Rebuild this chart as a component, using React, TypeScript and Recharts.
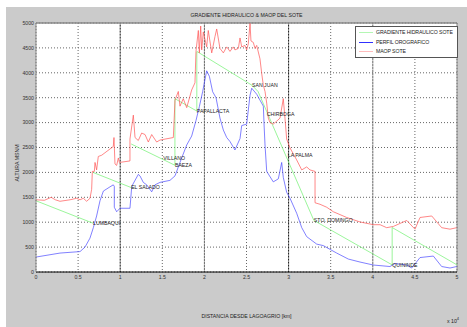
import React from "react";
import {
  LineChart,
  Line,
  XAxis,
  YAxis,
  CartesianGrid,
  ReferenceLine,
  ReferenceDot,
  Legend,
} from "recharts";

// distances in metres, heights in m.s.n.m.
const profileX = [0, 2850, 5230, 5820, 6410, 6810, 7200, 7600, 8000, 8790, 9180, 9300, 9300, 9580, 9980, 11160, 11370, 12150, 12350, 12740, 13150, 13740, 14130, 14730, 15910, 16510, 17100, 17900, 18490, 19000, 19400, 19790, 20270, 20590, 20980, 21380, 21850, 22250, 22650, 23040, 23630, 24230, 24430, 25020, 25420, 25620, 26210, 27000, 27100, 27200, 27400, 28180, 28780, 29180, 29370, 29770, 30170, 30960, 31560, 32150, 33340, 34120, 35710, 37090, 38480, 40060, 42040, 42640, 44030, 44620, 45610, 47190, 48180, 49170, 49960];
const profileY = [300, 380, 410, 500, 680, 890, 1125, 1430, 1625, 1710, 1750, 1720, 1300, 1210, 1280, 1280, 1720, 1960, 1930, 1800, 1750, 1610, 1750, 1800, 1840, 1930, 2200, 2550, 2730, 3040, 3320, 3620, 4040, 3930, 3620, 3500, 3090, 2850, 2700, 2620, 2450, 2680, 2940, 2970, 3550, 3690, 3570, 3330, 2910, 2550, 2020, 1810, 1870, 2200, 1900, 1600, 1480, 1180, 890, 710, 560, 530, 380, 260, 200, 140, 110, 170, 140, 80, 290, 320, 110, 80, 110];

const maopX = [0, 1000, 1800, 2300, 2850, 4040, 4830, 5230, 5620, 6020, 6410, 6610, 6690, 6930, 7010, 7200, 7400, 7800, 9180, 9260, 9380, 9580, 9780, 9900, 11160, 11160, 11560, 11760, 12150, 12550, 12950, 13340, 13740, 14330, 14730, 16310, 16510, 16900, 17100, 17490, 17900, 18490, 18880, 19000, 19280, 19400, 19560, 19680, 19870, 20270, 20460, 20870, 21260, 21460, 21850, 22250, 22650, 23040, 23430, 23630, 24030, 24230, 24430, 24820, 25020, 25210, 25420, 25530, 25810, 26010, 26210, 26600, 26810, 27000, 27200, 27400, 27590, 27790, 28180, 28590, 28980, 29370, 29570, 29770, 30170, 30960, 31560, 32150, 32540, 33140, 33140, 33730, 34530, 35310, 36900, 38480, 40060, 40860, 41650, 42440, 44030, 45010, 45610, 47000, 48180, 49170, 49960];
const maopY = [1450, 1440, 1500, 1450, 1420, 1450, 1480, 1450, 1480, 1420, 1480, 1660, 2020, 2020, 2200, 2050, 2320, 2345, 2520, 2700, 2170, 2140, 2290, 2200, 2230, 2670, 3150, 2700, 2640, 2790, 2760, 2610, 2760, 2610, 2650, 2700, 3450, 3625, 3330, 3480, 3300, 3655, 3800, 4430, 4850, 4400, 4940, 4460, 4820, 4520, 4850, 4400, 4730, 4880, 4490, 4400, 4520, 4430, 4520, 4460, 4490, 4700, 4520, 4550, 4460, 4580, 4990, 4640, 4610, 4490, 4550, 4280, 3980, 3750, 3625, 3390, 3090, 3000, 2970, 3030, 3090, 3480, 3090, 2670, 2490, 2250, 2050, 2110, 2050, 2020, 1390, 1360, 1300, 1210, 1095, 1005, 950, 950, 890, 915, 1035, 860, 1095, 1125, 890, 860, 890];

// hydraulic gradient, drawn in three pieces (it restarts at pump stations)
const gradX1 = [0, 6770];
const gradY1 = [1430, 980];
const gradX2 = [6770, 11300];
const gradY2 = [2000, 1696];
const gradX3 = [11300, 16500, 16500, 19100, 19100, 25650, 26370, 33000, 42300, 42300, 50000];
const gradY3 = [2571, 2143, 3480, 3232, 4429, 3750, 3625, 1036, 143, 893, 143];

const stationNames = ["LUMBAQUI", "EL SALADO", "VILLANO", "BAEZA", "PAPALLACTA", "SAN JUAN", "CHIRBOGA", "LA PALMA", "STO. DOMINGO", "QUININDE"];
const stationX = [6770, 11300, 15100, 16500, 19100, 25650, 27400, 29900, 33000, 42300];
const stationY = [980, 1696, 2290, 2143, 3232, 3750, 3160, 2340, 1036, 143];

const xTicks = [0, 5000, 10000, 15000, 20000, 25000, 30000, 35000, 40000, 45000, 50000];
const yTicks = [0, 500, 1000, 1500, 2000, 2500, 3000, 3500, 4000, 4500, 5000];

const legendItems = [
  { name: "GRADIENTE HIDRAULICO SOTE", color: "#b4f7b4" },
  { name: "PERFIL OROGRAFICO", color: "#3030ff" },
  { name: "MAOP SOTE", color: "#ffbcbc" },
];

const zip = (xs: number[], ys: number[]) => xs.map((x, i) => ({ x, y: ys[i] }));

const profile = zip(profileX, profileY);
const maop = zip(maopX, maopY);
const grad1 = zip(gradX1, gradY1);
const grad2 = zip(gradX2, gradY2);
const grad3 = zip(gradX3, gradY3);

const FONT = "'Liberation Sans', Arial, sans-serif";
const FS = 5.2;
const tickStyle = { fontSize: FS, fill: "#333", fontFamily: FONT };

function LegendBox() {
  return (
    <div
      style={{
        width: 101,
        height: 29,
        background: "#fff",
        border: "1px solid #555",
        fontFamily: FONT,
        fontSize: FS,
        color: "#222",
        paddingTop: 1,
        boxSizing: "content-box",
        whiteSpace: "nowrap",
        lineHeight: 1,
      }}
    >
      {legendItems.map((it) => (
        <div key={it.name} style={{ display: "flex", alignItems: "center", height: 9.5 }}>
          <div style={{ width: 14, height: 1, background: it.color, marginLeft: 3, marginRight: 3, flexShrink: 0 }} />
          <span style={{ letterSpacing: -0.1 }}>{it.name}</span>
        </div>
      ))}
    </div>
  );
}

export default function App() {
  const green = "#70f070";
  return (
    <div style={{ position: "absolute", left: 0, top: 0, width: 467, height: 327, background: "#fff" }}>
      <div style={{ position: "absolute", left: 6, top: 7, right: 0, bottom: 0, background: "#cbcbcb" }} />
      <div
        style={{
          position: "absolute",
          left: 36,
          width: 421,
          top: 12,
          textAlign: "center",
          fontFamily: FONT,
          fontSize: FS,
          color: "#222",
        }}
      >
        GRADIENTE HIDRAULICO &amp; MAOP DEL SOTE
      </div>
      <div style={{ position: "absolute", left: 0, top: 0 }}>
        <LineChart width={467} height={327} margin={{ top: 23, right: 10, bottom: 0, left: 6 }}>
          <CartesianGrid fill="#fff" stroke="#666" strokeDasharray="1 2" horizontalValues={yTicks} verticalValues={xTicks} />
          <ReferenceLine x={10000} stroke="#111" strokeDasharray="1.5 1.5" />
          <ReferenceLine x={30000} stroke="#111" strokeDasharray="1.5 1.5" />
          <ReferenceLine x={20000} stroke="#666" strokeDasharray="1.5 1.5" />
          <ReferenceLine x={40000} stroke="#666" strokeDasharray="1.5 1.5" />
          <ReferenceLine y={5000} stroke="#8a8a8a" strokeWidth={1.5} />
          <ReferenceLine x={50000} stroke="#8a8a8a" />
          <XAxis
            type="number"
            dataKey="x"
            domain={[0, 50000]}
            ticks={xTicks}
            tickFormatter={(v: number) => String(v / 10000)}
            tick={tickStyle}
            tickLine={false}
            tickSize={3}
            tickMargin={0}
            axisLine={{ stroke: "#000" }}
            height={24}
            allowDuplicatedCategory={false}
          />
          <YAxis
            type="number"
            dataKey="y"
            domain={[0, 5000]}
            ticks={yTicks}
            tick={tickStyle}
            tickLine={false}
            tickSize={2}
            tickMargin={0}
            axisLine={{ stroke: "#8a8a8a" }}
            width={30}
          />
          <Legend
            content={() => <LegendBox />}
            wrapperStyle={{ position: "absolute", left: 355, top: 26, width: 103, height: 31 }}
          />
          <Line data={grad1} dataKey="y" type="linear" stroke={green} strokeWidth={0.7} dot={false} isAnimationActive={false} legendType="none" />
          <Line data={grad2} dataKey="y" type="linear" stroke={green} strokeWidth={0.7} dot={false} isAnimationActive={false} legendType="none" />
          <Line data={grad3} dataKey="y" type="linear" stroke={green} strokeWidth={0.7} dot={false} isAnimationActive={false} legendType="none" />
          <Line data={profile} dataKey="y" type="linear" stroke="#4a4aff" strokeWidth={0.7} dot={false} isAnimationActive={false} legendType="none" />
          <Line data={maop} dataKey="y" type="linear" stroke="#ff5555" strokeWidth={0.7} dot={false} isAnimationActive={false} legendType="none" />
          {stationNames.map((n, i) => (
            <ReferenceDot
              key={n}
              x={stationX[i]}
              y={stationY[i]}
              r={0}
              fill="none"
              stroke="none"
              label={{ value: n, position: "right", offset: 0, fontSize: FS, fill: "#222", fontFamily: FONT }}
            />
          ))}
        </LineChart>
      </div>
      <div
        style={{
          position: "absolute",
          left: 6,
          top: 163,
          width: 22,
          height: 0,
          fontFamily: FONT,
          fontSize: FS,
          color: "#222",
        }}
      >
        <div style={{ position: "absolute", left: 11, top: 0, transform: "translate(-50%, -50%) rotate(-90deg)", whiteSpace: "nowrap" }}>
          ALTURA MSNM
        </div>
      </div>
      <div
        style={{
          position: "absolute",
          left: 36,
          width: 421,
          top: 313,
          textAlign: "center",
          fontFamily: FONT,
          fontSize: FS,
          color: "#222",
        }}
      >
        DISTANCIA DESDE LAGOAGRIO [km]
      </div>
      <div style={{ position: "absolute", left: 447, top: 318, fontFamily: FONT, fontSize: FS, color: "#222" }}>
        x 10<sup style={{ fontSize: 4, verticalAlign: "top", position: "relative", top: -2 }}>4</sup>
      </div>
    </div>
  );
}
